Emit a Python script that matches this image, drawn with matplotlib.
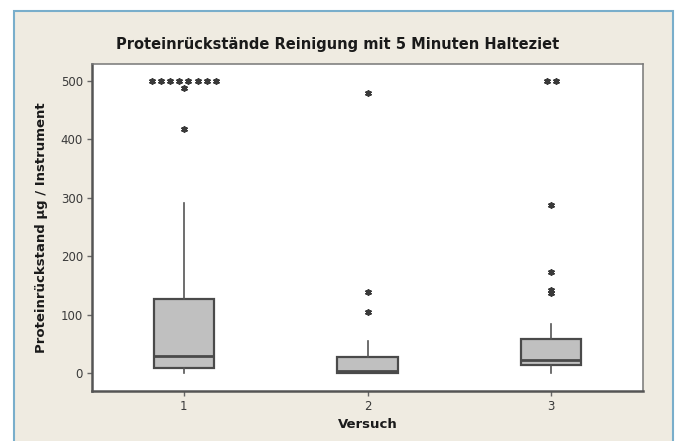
import numpy as np
import matplotlib
matplotlib.use('Agg')
import matplotlib.pyplot as plt
from matplotlib.patches import Rectangle

# Versuch 1..3, box statistics
versuche = [1, 2, 3]
q1 = [9, 0, 14]
median = [29, 3, 22]
q3 = [127, 27, 58]
whisker_low = [0, 0, 0]
whisker_high = [291, 55, 84]

# outliers (asterisks)
outliers_1 = [500, 500, 500, 500, 500, 500, 500, 500, 488, 418]
outliers_2 = [479, 139, 104]
outliers_3 = [500, 500, 288, 173, 142, 137]
outliers = [outliers_1, outliers_2, outliers_3]

title = 'Proteinrückstände Reinigung mit 5 Minuten Halteziet'
ylabel = 'Proteinrückstand µg / Instrument'
xlabel = 'Versuch'

bg = '#efebe1'
fig = plt.figure(figsize=(6.79, 4.41), dpi=100, facecolor='white')
fig.patches.append(Rectangle((14 / 679, -0.01), (673 - 14) / 679, (441 - 11) / 441 + 0.01,
                             transform=fig.transFigure, facecolor=bg,
                             edgecolor='#79aecb', linewidth=1.5, zorder=-10))

ax = fig.add_axes([92 / 679, 50 / 441, (643 - 92) / 679, (391 - 64) / 441])
ax.set_zorder(5)
ax.set_facecolor('white')

stats = []
for i in range(len(versuche)):
    stats.append({'q1': q1[i], 'med': median[i], 'q3': q3[i],
                  'whislo': whisker_low[i], 'whishi': whisker_high[i], 'fliers': []})

ax.bxp(stats, positions=versuche, widths=0.33, patch_artist=True, showcaps=False,
       showfliers=False,
       boxprops=dict(facecolor='#c0c0c0', edgecolor='#4a4a4a', linewidth=1.6),
       medianprops=dict(color='#4a4a4a', linewidth=2.0),
       whiskerprops=dict(color='#555555', linewidth=1.2))

# asterisks, duplicates spread side by side
step = 0.05
for pos, vals in zip(versuche, outliers):
    vals = np.array(vals)
    for v in np.unique(vals):
        n = int(np.sum(vals == v))
        xs = pos + (np.arange(n) - (n - 1) / 2) * step
        ax.scatter(xs, [v] * n, marker=(6, 2, 0), s=14, color='#3a3a3a',
                   linewidths=1.3, zorder=3)

ax.set_xlim(0.5, 3.5)
ax.set_ylim(-31, 529)
ax.set_xticks(versuche)
ax.set_yticks([0, 100, 200, 300, 400, 500])
ax.tick_params(direction='out', length=3.5, width=1, color='#666666',
               labelsize=8.5, labelcolor='#3a3a3a', pad=3)
for s in ax.spines.values():
    s.set_color('#777777')
    s.set_linewidth(1.1)
ax.spines['left'].set_color('#555555')
ax.spines['bottom'].set_color('#555555')
ax.spines['left'].set_linewidth(1.8)
ax.spines['bottom'].set_linewidth(1.8)

fig.text(338 / 679, (441 - 45) / 441, title, ha='center', va='center',
         fontsize=10.5, fontweight='bold', color='#1a1a1a')
fig.text(42 / 679, (441 - 228) / 441, ylabel, ha='center', va='center', rotation=90,
         fontsize=9.5, fontweight='bold', color='#1a1a1a')
fig.text(368 / 679, (441 - 425) / 441, xlabel, ha='center', va='center',
         fontsize=9.5, fontweight='bold', color='#1a1a1a')

plt.savefig('out.png', dpi=100, facecolor=fig.get_facecolor())
